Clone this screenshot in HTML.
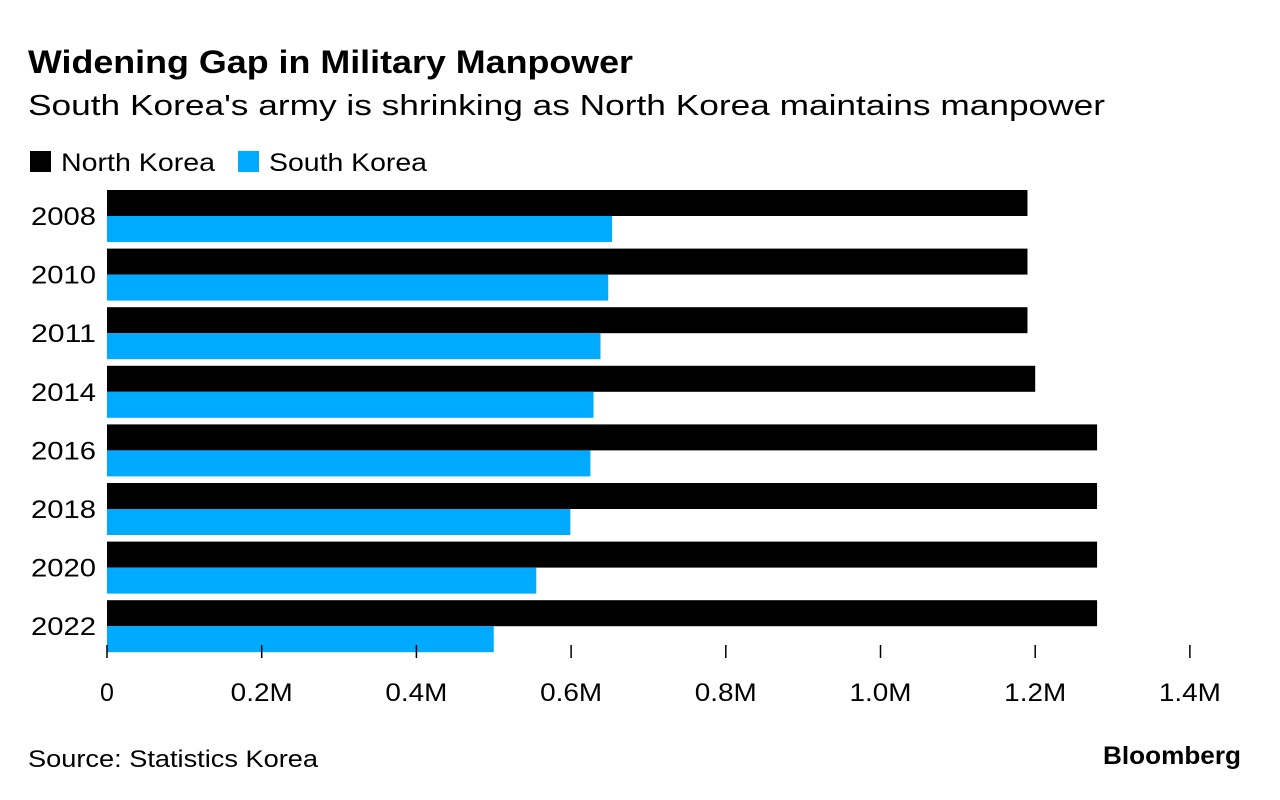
<!DOCTYPE html>
<html><head><meta charset="utf-8"><style>
body{margin:0;background:#fff;font-family:"Liberation Sans",sans-serif;}
#wrap{position:relative;width:1280px;height:800px;overflow:hidden;}
</style></head><body>
<div id="wrap">
<svg id="chart" width="1280" height="800">
<text x="28" y="73" font-size="32" font-weight="bold" fill="#000" textLength="605" lengthAdjust="spacingAndGlyphs">Widening Gap in Military Manpower</text>
<text x="28" y="115" font-size="29" fill="#000" textLength="1077" lengthAdjust="spacingAndGlyphs">South Korea's army is shrinking as North Korea maintains manpower</text>
<g>
<rect x="30" y="151" width="21" height="21" fill="#000"/>
<text x="61" y="171" font-size="25" textLength="154" lengthAdjust="spacingAndGlyphs">North Korea</text>
<rect x="238" y="151" width="21" height="21" fill="#00aaff"/>
<text x="269" y="171" font-size="25" textLength="158" lengthAdjust="spacingAndGlyphs">South Korea</text>
</g>
<g id="bars"></g>
<g id="axis"></g>
<text x="28" y="767" font-size="24" textLength="290" lengthAdjust="spacingAndGlyphs">Source: Statistics Korea</text>
<text x="1103" y="764" font-size="25" font-weight="bold" textLength="138" lengthAdjust="spacingAndGlyphs">Bloomberg</text>
</svg>
</div>
<script>
const years = ["2008","2010","2011","2014","2016","2018","2020","2022"];
const northKorea = [1.19,1.19,1.19,1.2,1.28,1.28,1.28,1.28];
const southKorea = [0.653,0.648,0.638,0.629,0.625,0.599,0.555,0.5];
const tickValues = [0,0.2,0.4,0.6,0.8,1.0,1.2,1.4];
const tickLabels = ["0","0.2M","0.4M","0.6M","0.8M","1.0M","1.2M","1.4M"];
const NS="http://www.w3.org/2000/svg";
const x0=107, pxPerM=773.5, barTop=190, pitch=58.6, bh=26;
const xs=v=>x0+v*pxPerM;
const barsG=document.getElementById('bars'), axisG=document.getElementById('axis');
function mk(tag,attrs,parent){const e=document.createElementNS(NS,tag);for(const k in attrs)e.setAttribute(k,attrs[k]);parent.appendChild(e);return e;}
years.forEach((y,i)=>{
  const yy=barTop+i*pitch;
  const b1=mk('rect',{x:x0,y:yy,width:xs(northKorea[i])-x0,height:bh,fill:'#000'},barsG);
  
  
  const b2=mk('rect',{x:x0,y:yy+bh,width:xs(southKorea[i])-x0,height:bh,fill:'#00aaff'},barsG);
  
  
  const t=mk('text',{x:96,y:yy+bh+9,'font-size':25,'text-anchor':'end',textLength:65,lengthAdjust:'spacingAndGlyphs'},axisG);
  t.textContent=y;
  
  
});
tickValues.forEach((v,i)=>{
  const x=xs(v);
  const l=mk('line',{x1:x,x2:x,y1:645,y2:658,stroke:'#000','stroke-width':1.5},axisG);
  
  
  const attrs={x:x,y:701,'font-size':25,'text-anchor':'middle'};
  if(tickLabels[i].length>1){attrs.textLength=62;attrs.lengthAdjust='spacingAndGlyphs';}
  const t=mk('text',attrs,axisG);
  t.textContent=tickLabels[i];
  
  
});
</script>
</body></html>
